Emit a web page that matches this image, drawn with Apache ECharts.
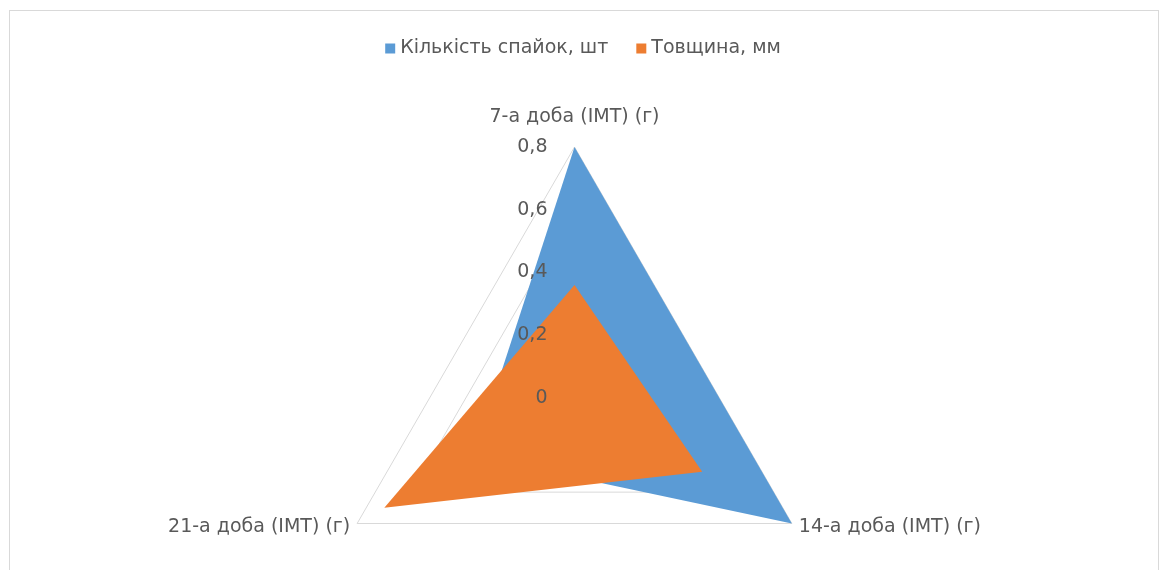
<!DOCTYPE html>
<html>
<head>
<meta charset="utf-8">
<script src="https://cdn.jsdelivr.net/npm/echarts@6/dist/echarts.min.js"></script>
<style>
html,body{margin:0;padding:0;background:#fff;}
#frame{position:absolute;left:9px;top:10px;width:1150px;height:600px;border:1px solid #d9d9d9;box-sizing:border-box;}
#chart{position:absolute;left:0;top:0;width:1166px;height:570px;}
</style>
</head>
<body>
<div id="frame"></div>
<div id="chart"></div>
<script>
// Data
const categories = ['7-а доба (ІМТ) (г)', '14-а доба (ІМТ) (г)', '21-а доба (ІМТ) (г)'];
const seriesNames = ['Кількість спайок, шт', 'Товщина, мм'];
const adhesions = [0.8, 0.8, 0.37];
const thickness = [0.36, 0.47, 0.70];
const axisMax = 0.8;
const axisMin = 0;

// ECharts places indicators counter-clockwise; Excel goes clockwise.
const order = [0, 2, 1];
const pick = arr => order.map(i => arr[i]);

const font = '"DejaVu Sans", "Open Sans", sans-serif';
const textColor = '#595959';
const fs = 19;

const baseRadar = {
  center: [574.5, 398],
  radius: 251,
  startAngle: 90,
  shape: 'polygon',
  splitNumber: 4,
  axisLine: {show: false},
  axisTick: {show: false},
  splitArea: {show: false}
};

const chart = echarts.init(document.getElementById('chart'), null, {renderer: 'canvas'});
chart.setOption({
  animation: false,
  color: ['#5B9BD5', '#ED7D31'],
  legend: {
    top: 34,
    left: 'center',
    icon: 'rect',
    itemWidth: 10,
    itemHeight: 10,
    itemGap: 28,
    itemTextGap: 7,
    textStyle: {color: textColor, fontSize: fs, fontFamily: font},
    data: seriesNames
  },
  radar: [
    Object.assign({}, baseRadar, {
      z: 1,
      nameGap: 8,
      axisName: {
        color: textColor, fontSize: fs, fontFamily: font,
        formatter: name => name === categories[0] ? '{top|' + name + '}' : name,
        rich: {top: {color: textColor, fontSize: fs, fontFamily: font, padding: [0, 0, 12, 0]}}
      },
      indicator: order.map(i => ({name: categories[i], min: axisMin, max: axisMax})),
      splitLine: {lineStyle: {color: '#d9d9d9', width: 1}},
      axisLabel: {show: false}
    }),
    Object.assign({}, baseRadar, {
      z: 10,
      axisName: {show: false},
      indicator: order.map((i, k) => {
        const ind = {name: categories[i], min: axisMin, max: axisMax};
        if (k !== 0) ind.axisLabel = {show: false};
        return ind;
      }),
      splitLine: {show: false},
      axisLabel: {
        show: true,
        color: textColor,
        fontSize: fs,
        fontFamily: font,
        margin: 27,
        formatter: v => String(Math.round(v * 10) / 10).replace('.', ',')
      }
    })
  ],
  series: [{
    type: 'radar',
    radarIndex: 0,
    z: 2,
    symbol: 'none',
    data: [
      {name: seriesNames[0], value: pick(adhesions), lineStyle: {width: 0}, areaStyle: {color: '#5B9BD5', opacity: 1}},
      {name: seriesNames[1], value: pick(thickness), lineStyle: {width: 0}, areaStyle: {color: '#ED7D31', opacity: 1}}
    ]
  }]
});
</script>
</body>
</html>
